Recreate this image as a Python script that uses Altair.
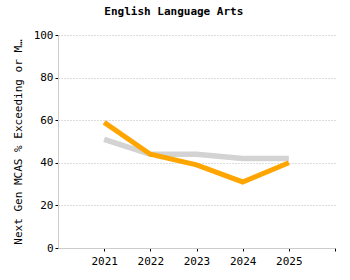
import altair as alt
import pandas as pd

years = [2021, 2022, 2023, 2024, 2025]
school = [59, 44, 39, 31, 40]
state = [51, 44, 44, 42, 42]

df = pd.DataFrame({
    "year": years * 2,
    "value": state + school,
    "series": ["State"] * 5 + ["School"] * 5,
    "order": [0] * 5 + [1] * 5,
})

FONT = "DejaVu Sans Mono"

base = alt.Chart(df).encode(
    x=alt.X("year:Q",
            scale=alt.Scale(domain=[2020, 2026], nice=False, zero=False),
            axis=alt.Axis(values=[2021, 2022, 2023, 2024, 2025, 2026],
                          labelExpr="datum.value == 2026 ? '' : datum.value",
                          format="d", grid=False, title=None,
                          tickColor="#000", tickSize=3, domainColor="#ccc",
                          labelFont=FONT, labelFontSize=11, labelColor="#000",
                          labelPadding=4)),
    y=alt.Y("value:Q",
            scale=alt.Scale(domain=[0, 100], nice=False),
            axis=alt.Axis(values=[0, 20, 40, 60, 80, 100],
                          title="Next Gen MCAS % Exceeding or Meeting Expectations",
                          titleFont=FONT, titleFontSize=11, titleFontWeight="normal",
                          titleColor="#000", titleLimit=208, titlePadding=10,
                          grid=True, gridDash=[1, 2], gridColor="#bbb",
                          tickColor="#000", tickSize=3, domainColor="#ccc",
                          labelFont=FONT, labelFontSize=11, labelColor="#000")),
    color=alt.Color("series:N",
                    scale=alt.Scale(domain=["State", "School"], range=["#d3d3d3", "#ffa500"]),
                    legend=None),
    strokeWidth=alt.StrokeWidth("series:N",
                    scale=alt.Scale(domain=["State", "School"], range=[5.5, 5]),
                    legend=None),
    order="order:Q",
    detail="series:N",
)

chart = base.mark_line().properties(
    width=277, height=213,
    title=alt.TitleParams("English Language Arts", font=FONT, fontSize=11,
                          fontWeight="bold", anchor="middle", frame="bounds", offset=12),
    autosize=alt.AutoSizeParams(type="none"),
    padding={"left": 58, "top": 35, "right": 15, "bottom": 32},
).configure_view(stroke=None)

chart.save("out.html", embed_options={"renderer": "svg", "actions": False})
